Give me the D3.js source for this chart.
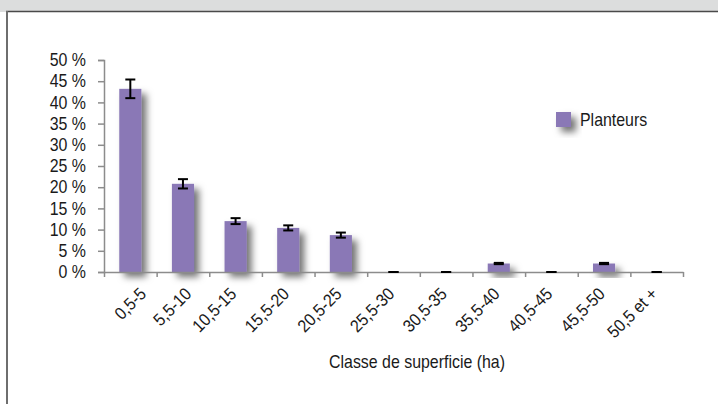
<!DOCTYPE html>
<html>
<head>
<meta charset="utf-8">
<script src="https://cdn.jsdelivr.net/npm/d3@7"></script>
<style>
  html, body { margin: 0; padding: 0; background: #fff; }
  svg { display: block; }
  text { font-family: "Liberation Sans", Arial, sans-serif; fill: #1a1a1a; }
</style>
</head>
<body>
<div id="chart"></div>
<script>
// Data
const categories = ["0,5-5", "5,5-10", "10,5-15", "15,5-20", "20,5-25", "25,5-30",
  "30,5-35", "35,5-40", "40,5-45", "45,5-50", "50,5 et +"];
const planteurs = [43.2, 20.8, 12.0, 10.4, 8.7, 0, 0, 2.0, 0, 2.0, 0];
const errors = [2.2, 1.1, 0.7, 0.6, 0.6, 0, 0, 0.15, 0, 0.15, 0];
const yTicks = [0, 5, 10, 15, 20, 25, 30, 35, 40, 45, 50];
const seriesName = "Planteurs";
const xTitle = "Classe de superficie (ha)";

// Layout: the two shortest labels sit further right, as in the source
const labelShift = [15, 7.5, 0, 0, 0, 0, 0, 0, 0, 0, 0];

const W = 718, H = 404;
const plot = { left: 104, right: 683, top: 60, bottom: 272 };
const fontSize = 17.5;
const squeeze = 0.91; // condensed look

const svg = d3.select("#chart").append("svg")
  .attr("width", W)
  .attr("height", H);

// Drop shadow for bars
const defs = svg.append("defs");
const f = defs.append("filter").attr("id", "shadow")
  .attr("x", "-50%").attr("y", "-50%").attr("width", "220%").attr("height", "220%");
f.append("feDropShadow")
  .attr("dx", 5).attr("dy", 5)
  .attr("stdDeviation", 3.5)
  .attr("flood-color", "#000")
  .attr("flood-opacity", 0.55);

// Frame: grey header band and bordered panel
svg.append("rect").attr("x", 0).attr("y", 0).attr("width", W).attr("height", 12).attr("fill", "#dcdddd");
svg.append("line").attr("x1", 6).attr("x2", W).attr("y1", 11.5).attr("y2", 11.5)
  .attr("stroke", "#4a4a4a").attr("stroke-width", 1.5);
svg.append("line").attr("x1", 7).attr("x2", 7).attr("y1", 11).attr("y2", H)
  .attr("stroke", "#6e6e6e").attr("stroke-width", 2);

// Scales
const x = d3.scaleBand()
  .domain(categories)
  .range([plot.left, plot.right])
  .paddingInner(0.58)
  .paddingOuter(0.29);

const xEdge = d3.scaleLinear()
  .domain([0, categories.length])
  .range([plot.left, plot.right]);

const y = d3.scaleLinear()
  .domain([0, 50])
  .range([plot.bottom, plot.top]);

// Y axis
const yAxis = svg.append("g")
  .attr("transform", `translate(${plot.left},0)`)
  .call(d3.axisLeft(y).tickValues(yTicks).tickFormat(d => d + " %").tickSize(6).tickPadding(12));
yAxis.select(".domain").attr("stroke", "#8c8c8c").attr("stroke-width", 1.5);
yAxis.selectAll(".tick line").attr("stroke", "#8c8c8c").attr("stroke-width", 1.5);
yAxis.selectAll(".tick text")
  .attr("font-family", "Liberation Sans, Arial, sans-serif")
  .attr("font-size", fontSize)
  .attr("fill", "#1a1a1a")
  .attr("x", -18 / squeeze)
  .attr("transform", `scale(${squeeze},1)`);

// Bars
svg.append("g").selectAll("rect")
  .data(planteurs)
  .join("rect")
  .attr("x", (d, i) => x(categories[i]))
  .attr("y", d => y(d))
  .attr("width", x.bandwidth())
  .attr("height", d => y(0) - y(d))
  .attr("fill", "#8a78b6")
  .attr("filter", "url(#shadow)");

// X axis
const xAxis = svg.append("g")
  .attr("transform", `translate(0,${plot.bottom})`)
  .call(d3.axisBottom(xEdge).tickValues(d3.range(categories.length + 1)).tickFormat("").tickSize(5).tickSizeOuter(0));
xAxis.select(".domain").attr("stroke", "#8c8c8c").attr("stroke-width", 1.5);
xAxis.selectAll(".tick line").attr("stroke", "#8c8c8c").attr("stroke-width", 1.5);

// Error bars
const eb = svg.append("g").attr("stroke", "#000").attr("stroke-width", 2);
planteurs.forEach((v, i) => {
  const cx = x(categories[i]) + x.bandwidth() / 2;
  const lo = y(Math.max(0, v - errors[i]));
  const hi = y(v + errors[i]);
  eb.append("line").attr("x1", cx).attr("x2", cx).attr("y1", lo).attr("y2", hi);
  eb.append("line").attr("x1", cx - 5).attr("x2", cx + 5).attr("y1", lo).attr("y2", lo);
  eb.append("line").attr("x1", cx - 5).attr("x2", cx + 5).attr("y1", hi).attr("y2", hi);
});

// Category labels, rotated
svg.append("g").selectAll("text")
  .data(categories)
  .join("text")
  .attr("transform", (d, i) => `translate(${x(d) + x.bandwidth() / 2 + 2 + labelShift[i]},${plot.bottom + 23}) rotate(-45) scale(${squeeze},1)`)
  .attr("text-anchor", "end")
  .attr("font-size", fontSize)
  .text(d => d);

// Axis title
svg.append("text")
  .attr("transform", `translate(417,368) scale(${squeeze},1)`)
  .attr("text-anchor", "middle")
  .attr("font-size", fontSize)
  .text(xTitle);

// Legend
const legend = svg.append("g").attr("transform", "translate(556,112)");
legend.append("rect")
  .attr("width", 15).attr("height", 15)
  .attr("fill", "#8a78b6")
  .attr("filter", "url(#shadow)");
legend.append("text")
  .attr("transform", `translate(24,14) scale(${squeeze},1)`)
  .attr("font-size", fontSize)
  .text(seriesName);
</script>
</body>
</html>
